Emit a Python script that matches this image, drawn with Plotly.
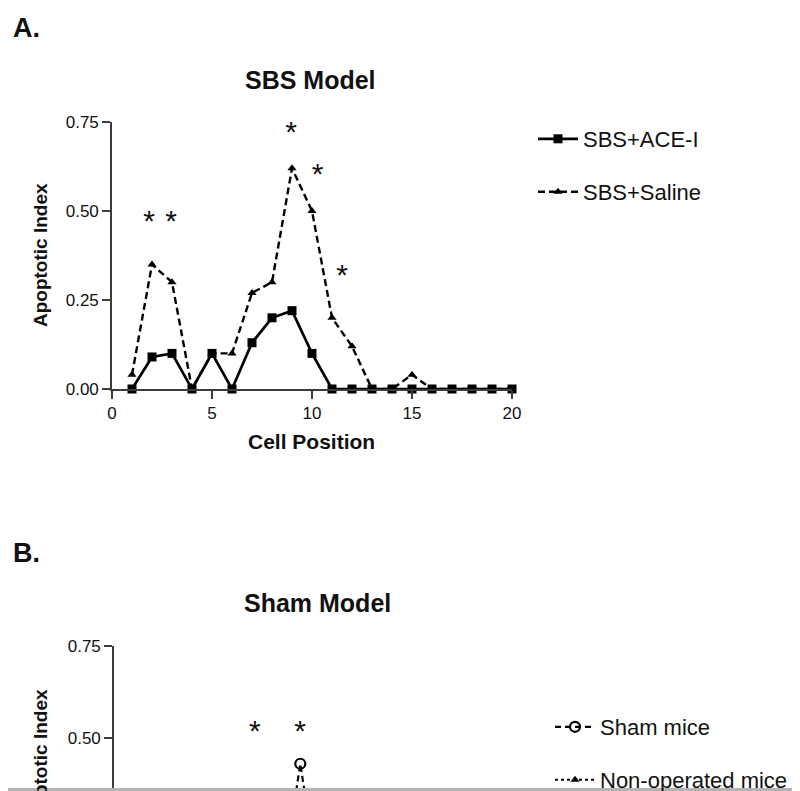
import plotly.graph_objects as go

# ---------------- data ----------------
cell_positions = list(range(1, 21))
sbs_ace_i = [0, 0.09, 0.10, 0, 0.10, 0, 0.13, 0.20, 0.22, 0.10,
             0, 0, 0, 0, 0, 0, 0, 0, 0, 0]
sbs_saline = [0.04, 0.35, 0.30, 0, 0.10, 0.10, 0.27, 0.30, 0.62, 0.50,
              0.20, 0.12, 0, 0, 0.04, 0, 0, 0, 0, 0]
star_a_x = [1.85, 2.95, 8.95, 10.28, 11.5]
star_a_y = [0.466, 0.466, 0.716, 0.598, 0.313]

sham_mice = [0, 0.02, 0.03, 0.02, 0.04, 0.05, 0.12, 0.06, 0.43, 0.06,
             0.02, 0, 0, 0, 0, 0, 0, 0, 0, 0]
non_operated_mice = [0, 0.01, 0.02, 0, 0.02, 0.02, 0.03, 0.04, 0.10, 0.05,
                     0.02, 0, 0, 0, 0, 0, 0, 0, 0, 0]
star_b_x = [6.8, 8.99]
star_b_y = [0.512, 0.512]

x_ticks = [0, 5, 10, 15, 20]
y_ticks = [0, 0.25, 0.50, 0.75]

# ---------------- layout helpers ----------------
# the page body has an 8px margin, so screen pixel = figure pixel + 8
W, H = 800, 791
OFF = 8
def px(x):
    return (x - OFF) / W
def py(y):
    return 1 - (y - OFF) / H

FONT = "Liberation Sans, Arial, sans-serif"
TXT = "#111111"
AX = "#3c3c3c"

fig = go.Figure()

# Panel A
fig.add_trace(go.Scatter(
    x=cell_positions, y=sbs_ace_i, mode="lines+markers", name="SBS+ACE-I",
    line=dict(color="black", width=2.7),
    marker=dict(symbol="square", size=9, color="black"),
    cliponaxis=False, xaxis="x", yaxis="y", legend="legend"))
fig.add_trace(go.Scatter(
    x=cell_positions, y=sbs_saline, mode="lines+markers", name="SBS+Saline",
    line=dict(color="black", width=2.4, dash="7px,4px"),
    marker=dict(symbol="triangle-up", size=8, color="black"),
    cliponaxis=False, xaxis="x", yaxis="y", legend="legend2"))
fig.add_trace(go.Scatter(
    x=star_a_x, y=star_a_y, mode="text", text=["*"] * len(star_a_x),
    textfont=dict(family=FONT, size=30, color=TXT), showlegend=False,
    cliponaxis=False, xaxis="x", yaxis="y"))

# Panel B
fig.add_trace(go.Scatter(
    x=cell_positions, y=sham_mice, mode="lines+markers", name="Sham mice",
    line=dict(color="black", width=2.2, dash="6px,4px"),
    marker=dict(symbol="circle-open", size=10, color="black", line=dict(width=2.2)),
    xaxis="x2", yaxis="y2", legend="legend3"))
fig.add_trace(go.Scatter(
    x=cell_positions, y=non_operated_mice, mode="lines+markers", name="Non-operated mice",
    line=dict(color="black", width=2, dash="3px,3px"),
    marker=dict(symbol="triangle-up", size=8, color="black"),
    xaxis="x2", yaxis="y2", legend="legend4"))
fig.add_trace(go.Scatter(
    x=star_b_x, y=star_b_y, mode="text", text=["*"] * len(star_b_x),
    textfont=dict(family=FONT, size=30, color=TXT), showlegend=False,
    cliponaxis=False, xaxis="x2", yaxis="y2"))

axis_common = dict(showline=True, linecolor=AX, linewidth=1.6, ticks="outside",
                   ticklen=8, tickwidth=1.6, tickcolor=AX, showgrid=False,
                   zeroline=False, tickfont=dict(family=FONT, size=17, color=TXT))

# panel B y axis: 0.75 at screen y=646, 0.50 at 738 -> 368 px per unit
yb_bottom = 0.75 - (H + OFF - 646) / 368.0

legend_common = dict(font=dict(family=FONT, size=22, color=TXT), bgcolor="rgba(0,0,0,0)",
                     itemwidth=40, xanchor="left", yanchor="middle", borderwidth=0,
                     tracegroupgap=0)

fig.update_layout(
    width=W, height=H, autosize=False,
    margin=dict(l=0, r=0, t=0, b=0, pad=0, autoexpand=False),
    paper_bgcolor="white", plot_bgcolor="white",
    font=dict(family=FONT, color=TXT),
    xaxis=dict(domain=[px(112), px(512)], range=[0, 20], tickvals=x_ticks,
               anchor="y", **axis_common),
    yaxis=dict(domain=[py(389), py(122)], range=[0, 0.75], tickvals=y_ticks,
               tickformat=".2f", anchor="x", **axis_common),
    xaxis2=dict(domain=[px(114), px(528)], range=[0, 20], anchor="y2", visible=False),
    yaxis2=dict(domain=[0, py(646)], range=[yb_bottom, 0.75], tickvals=y_ticks,
                tickformat=".2f", anchor="x2", **axis_common),
    legend=dict(x=px(533), y=py(139), **legend_common),
    legend2=dict(x=px(533), y=py(192), **legend_common),
    legend3=dict(x=px(550), y=py(727), **legend_common),
    legend4=dict(x=px(550), y=py(780), **legend_common),
)

annots = [
    dict(text="<b>A.</b>", x=px(11), y=py(28), xanchor="left", size=27),
    dict(text="<b>SBS Model</b>", x=px(310), y=py(80), xanchor="center", size=25),
    dict(text="<b>Cell Position</b>", x=px(311), y=py(441), xanchor="center", size=21),
    dict(text="<b>Apoptotic Index</b>", x=px(40), y=py(255), xanchor="center", size=19, angle=-90),
    dict(text="<b>B.</b>", x=px(11), y=py(553), xanchor="left", size=27),
    dict(text="<b>Sham Model</b>", x=px(317), y=py(603), xanchor="center", size=25),
    dict(text="<b>Apoptotic Index</b>", x=px(40), y=py(761), xanchor="center", size=19, angle=-90),
]
for a in annots:
    fig.add_annotation(text=a["text"], x=a["x"], y=a["y"], xref="paper", yref="paper",
                       xanchor=a["xanchor"], yanchor="middle", showarrow=False,
                       textangle=a.get("angle", 0),
                       font=dict(family=FONT, size=a["size"], color=TXT))

# grey border strip at the bottom edge of the picture (screen y 788..791)
fig.add_shape(type="rect", xref="paper", yref="paper", x0=0, x1=1,
              y0=py(792), y1=py(788),
              fillcolor="#b4b4b4", line=dict(width=0), layer="above")

fig.write_html("out.html")
